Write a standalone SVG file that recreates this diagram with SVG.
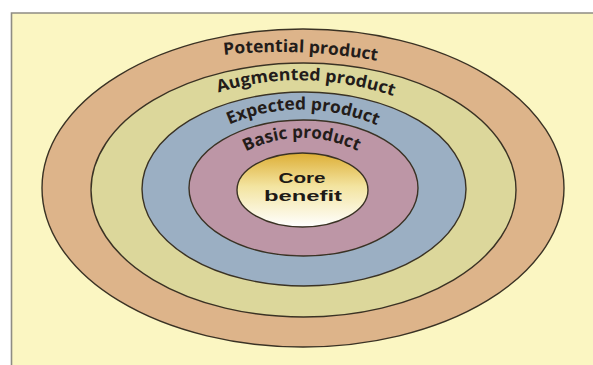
<svg xmlns="http://www.w3.org/2000/svg" width="593" height="365" viewBox="0 0 593 365">
  <style>
    .ring { stroke: #3a3224; stroke-width: 1.4; }
    .label { font-family: "Open Sans", "DejaVu Sans", sans-serif; font-weight: 700; font-size: 17px; fill: #231c1a; }
    .core-text { font-family: "Liberation Sans", Arial, sans-serif; font-weight: bold; font-size: 15px; fill: #1e1a16; text-anchor: middle; }
  </style>
  <defs>
    <linearGradient id="coreFill" x1="0" y1="0" x2="0" y2="1">
      <stop offset="0" stop-color="#DDAE35"/>
      <stop offset="0.45" stop-color="#F3E4A0"/>
      <stop offset="1" stop-color="#FFFFFF"/>
    </linearGradient>
    <!-- baselines for the ring labels -->
    <path id="arcPotential" d="M 215 56 Q 300 45 395 64"/>
    <path id="arcAugmented" d="M 205 97 Q 300 62 405 100"/>
    <path id="arcExpected" d="M 222 128 Q 300 90 388 130"/>
    <path id="arcBasic" d="M 238 156 Q 300 119 370 157"/>
  </defs>

  <!-- panel -->
  <rect x="0" y="0" width="593" height="365" fill="#FFFFFF"/>
  <rect x="11.5" y="13" width="582" height="353" fill="#FBF6C2"/>
  <path d="M 11.5 366 V 13 H 593" fill="none" stroke="#8e8c84" stroke-width="1.6"/>

  <g id="potential-product">
    <ellipse class="ring" cx="303" cy="188" rx="261" ry="159" fill="#DDB48A"/>
    <text class="label"><textPath href="#arcPotential" startOffset="9" textLength="154" lengthAdjust="spacingAndGlyphs">Potential product</textPath></text>
  </g>

  <g id="augmented-product">
    <ellipse class="ring" cx="303.5" cy="190" rx="212.5" ry="127" fill="#DCD79B"/>
    <text class="label"><textPath href="#arcAugmented" startOffset="14" textLength="178" lengthAdjust="spacingAndGlyphs">Augmented product</textPath></text>
  </g>

  <g id="expected-product">
    <ellipse class="ring" cx="304" cy="189" rx="162" ry="97" fill="#9BAFC3"/>
    <text class="label"><textPath href="#arcExpected" startOffset="8" textLength="152" lengthAdjust="spacingAndGlyphs">Expected product</textPath></text>
  </g>

  <g id="basic-product">
    <ellipse class="ring" cx="303.5" cy="188" rx="114.5" ry="68" fill="#BD96A6"/>
    <text class="label"><textPath href="#arcBasic" startOffset="9" textLength="116" lengthAdjust="spacingAndGlyphs">Basic product</textPath></text>
  </g>

  <g id="core-benefit">
    <ellipse class="ring" cx="302.5" cy="190" rx="65.5" ry="37" fill="url(#coreFill)"/>
    <text class="core-text" x="302" y="183" textLength="47" lengthAdjust="spacingAndGlyphs">Core</text>
    <text class="core-text" x="303" y="201" textLength="78" lengthAdjust="spacingAndGlyphs">benefit</text>
  </g>
</svg>
